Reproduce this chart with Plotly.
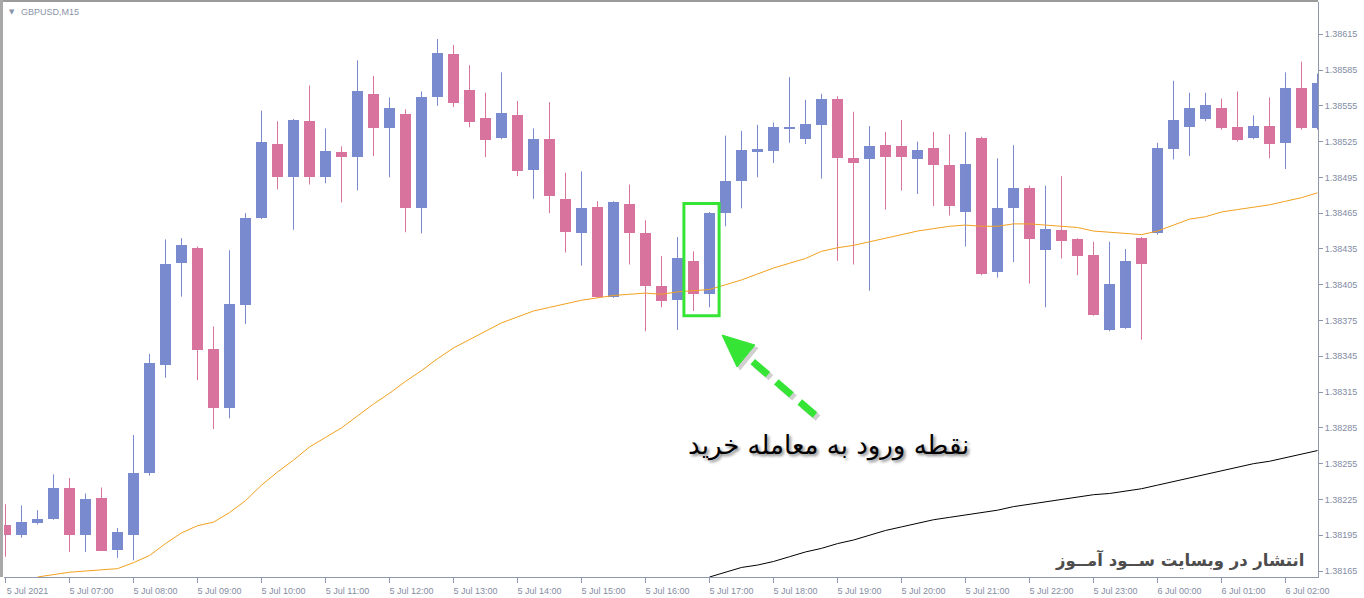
import plotly.graph_objects as go

# ---------------- data (GBPUSD M15, 5 Jul 2021 06:00 onwards) ----------------
x_tick_labels = ["5 Jul 2021", "5 Jul 07:00", "5 Jul 08:00", "5 Jul 09:00", "5 Jul 10:00",
                 "5 Jul 11:00", "5 Jul 12:00", "5 Jul 13:00", "5 Jul 14:00", "5 Jul 15:00",
                 "5 Jul 16:00", "5 Jul 17:00", "5 Jul 18:00", "5 Jul 19:00", "5 Jul 20:00",
                 "5 Jul 21:00", "5 Jul 22:00", "5 Jul 23:00", "6 Jul 00:00", "6 Jul 01:00",
                 "6 Jul 02:00"]
x_tick_positions = [0, 4, 8, 12, 16, 20, 24, 28, 32, 36, 40, 44, 48, 52, 56, 60, 64, 68, 72, 76, 80]

y_tick_labels = ["1.38165", "1.38195", "1.38225", "1.38255", "1.38285", "1.38315", "1.38345",
                 "1.38375", "1.38405", "1.38435", "1.38465", "1.38495", "1.38525", "1.38555",
                 "1.38585", "1.38615"]

opens = [1.38204, 1.38195, 1.38205, 1.38209, 1.38235, 1.38195, 1.38226, 1.38183, 1.38195, 1.38247,
         1.38338, 1.38423, 1.38436, 1.38351, 1.38302, 1.38388, 1.38461, 1.38523, 1.38495, 1.38542,
         1.38495, 1.38516, 1.38512, 1.38565, 1.38536, 1.38548, 1.38469, 1.38562, 1.38598, 1.38568,
         1.38545, 1.38528, 1.38547, 1.38501, 1.38527, 1.38477, 1.38448, 1.38470, 1.38395, 1.38473,
         1.38448, 1.38404, 1.38392, 1.38425, 1.38397, 1.38465, 1.38492, 1.38516, 1.38517, 1.38536,
         1.38527, 1.38539, 1.38561, 1.38511, 1.38510, 1.38522, 1.38521, 1.38510, 1.38520, 1.38505,
         1.38466, 1.38528, 1.38416, 1.38469, 1.38486, 1.38434, 1.38451, 1.38443, 1.38430, 1.38367,
         1.38369, 1.38444, 1.38448, 1.38519, 1.38537, 1.38544, 1.38553, 1.38537, 1.38528, 1.38538,
         1.38524, 1.38570, 1.38536]

highs = [1.38221, 1.38220, 1.38216, 1.38246, 1.38243, 1.38230, 1.38235, 1.38201, 1.38279, 1.38347,
         1.38443, 1.38444, 1.38437, 1.38370, 1.38434, 1.38465, 1.38551, 1.38542, 1.38544, 1.38572,
         1.38536, 1.38521, 1.38593, 1.38580, 1.38562, 1.38552, 1.38567, 1.38611, 1.38606, 1.38589,
         1.38566, 1.38583, 1.38559, 1.38536, 1.38558, 1.38499, 1.38500, 1.38475, 1.38475, 1.38489,
         1.38459, 1.38429, 1.38445, 1.38433, 1.38466, 1.38530, 1.38534, 1.38539, 1.38541, 1.38579,
         1.38560, 1.38565, 1.38563, 1.38550, 1.38538, 1.38533, 1.38543, 1.38525, 1.38533, 1.38531,
         1.38533, 1.38529, 1.38511, 1.38522, 1.38488, 1.38488, 1.38496, 1.38444, 1.38441, 1.38441,
         1.38435, 1.38445, 1.38524, 1.38576, 1.38566, 1.38566, 1.38561, 1.38567, 1.38547, 1.38562,
         1.38583, 1.38592, 1.38582]

lows = [1.38177, 1.38193, 1.38204, 1.38208, 1.38181, 1.38181, 1.38182, 1.38176, 1.38174, 1.38245,
        1.38327, 1.38395, 1.38325, 1.38284, 1.38293, 1.38372, 1.38460, 1.38485, 1.38451, 1.38489,
        1.38490, 1.38474, 1.38484, 1.38513, 1.38495, 1.38449, 1.38448, 1.38555, 1.38554, 1.38537,
        1.38512, 1.38527, 1.38496, 1.38477, 1.38465, 1.38432, 1.38421, 1.38394, 1.38394, 1.38422,
        1.38366, 1.38386, 1.38367, 1.38383, 1.38386, 1.38454, 1.38469, 1.38495, 1.38507, 1.38524,
        1.38523, 1.38494, 1.38425, 1.38422, 1.38400, 1.38468, 1.38484, 1.38481, 1.38471, 1.38463,
        1.38437, 1.38413, 1.38411, 1.38424, 1.38406, 1.38386, 1.38427, 1.38413, 1.38379, 1.38366,
        1.38368, 1.38359, 1.38447, 1.38510, 1.38513, 1.38542, 1.38535, 1.38525, 1.38527, 1.38511,
        1.38502, 1.38535, 1.38535]

closes = [1.38195, 1.38206, 1.38209, 1.38235, 1.38195, 1.38225, 1.38182, 1.38198, 1.38247, 1.38339,
          1.38422, 1.38438, 1.38350, 1.38302, 1.38389, 1.38461, 1.38525, 1.38495, 1.38543, 1.38495,
          1.38517, 1.38512, 1.38567, 1.38536, 1.38553, 1.38469, 1.38562, 1.38599, 1.38557, 1.38541,
          1.38526, 1.38549, 1.38500, 1.38527, 1.38479, 1.38449, 1.38469, 1.38395, 1.38474, 1.38448,
          1.38404, 1.38391, 1.38427, 1.38397, 1.38465, 1.38492, 1.38518, 1.38519, 1.38537, 1.38537,
          1.38540, 1.38561, 1.38511, 1.38507, 1.38521, 1.38512, 1.38512, 1.38518, 1.38505, 1.38471,
          1.38506, 1.38414, 1.38469, 1.38486, 1.38443, 1.38452, 1.38442, 1.38429, 1.38380, 1.38406,
          1.38425, 1.38422, 1.38520, 1.38543, 1.38553, 1.38556, 1.38536, 1.38526, 1.38538, 1.38523,
          1.38570, 1.38536, 1.38574]

# orange moving average (visible from the 3rd candle)
ma_fast = [None, None, 1.38160, 1.38162, 1.38164, 1.38165, 1.38166, 1.38167, 1.38172, 1.38178,
           1.38188, 1.38197, 1.38203, 1.38206, 1.38214, 1.38224, 1.38237, 1.38248, 1.38258, 1.38269,
           1.38277, 1.38285, 1.38295, 1.38305, 1.38314, 1.38324, 1.38333, 1.38343, 1.38352, 1.38359,
           1.38366, 1.38373, 1.38378, 1.38383, 1.38386, 1.38389, 1.38392, 1.38394, 1.38396, 1.38397,
           1.38398, 1.38397, 1.38399, 1.38400, 1.38401, 1.38405, 1.38409, 1.38414, 1.38419, 1.38423,
           1.38427, 1.38433, 1.38436, 1.38438, 1.38441, 1.38444, 1.38447, 1.38450, 1.38452, 1.38454,
           1.38455, 1.38454, 1.38454, 1.38456, 1.38456, 1.38455, 1.38454, 1.38453, 1.38450, 1.38449,
           1.38448, 1.38447, 1.38450, 1.38455, 1.38460, 1.38462, 1.38466, 1.38468, 1.38470, 1.38472,
           1.38475, 1.38478, 1.38482]

# black slow moving average (enters the visible range at 17:00)
ma_slow = [None] * 44 + [
    1.38160, 1.38164, 1.38168, 1.38170, 1.38173, 1.38177, 1.38181, 1.38184, 1.38188, 1.38191,
    1.38195, 1.38199, 1.38202, 1.38205, 1.38208, 1.38210, 1.38212, 1.38214, 1.38216, 1.38219,
    1.38221, 1.38223, 1.38225, 1.38227, 1.38229, 1.38230, 1.38232, 1.38234, 1.38237, 1.38240,
    1.38243, 1.38246, 1.38249, 1.38252, 1.38255, 1.38257, 1.38260, 1.38263, 1.38266]

entry_candles = [43, 44]

# ---------------- styling ----------------
UP = "#7A8ACE"
DOWN = "#D8739E"
AXIS = "#8E97AE"
TXT = "#838CA3"

idx = list(range(len(opens)))
is_up = [c >= o for o, c in zip(opens, closes)]

fig = go.Figure()

# wicks
for flag, col in ((True, UP), (False, DOWN)):
    wx, wy = [], []
    for i in idx:
        if is_up[i] == flag:
            wx += [i, i, None]
            wy += [lows[i], highs[i], None]
    fig.add_trace(go.Scatter(x=wx, y=wy, mode="lines", line=dict(color=col, width=1),
                             hoverinfo="skip", showlegend=False))

# bodies
bases = [min(o, c) for o, c in zip(opens, closes)]
heights = [max(abs(c - o), 0.000009) for o, c in zip(opens, closes)]
fig.add_trace(go.Bar(x=idx, y=heights, base=bases, width=0.68,
                     marker=dict(color=[UP if u else DOWN for u in is_up], line=dict(width=0)),
                     showlegend=False, hoverinfo="skip"))

fig.add_trace(go.Scatter(x=idx, y=ma_fast, mode="lines", line=dict(color="#F2A11F", width=1),
                         showlegend=False, hoverinfo="skip"))
fig.add_trace(go.Scatter(x=idx, y=ma_slow, mode="lines", line=dict(color="#000000", width=1),
                         showlegend=False, hoverinfo="skip"))

# ---------------- layout ----------------
W, H = 1364, 598
ML, MR, MT, MB = 4, 46, 2, 21
PW, PH = W - ML - MR, H - MT - MB


def px(xp):
    return (xp - ML) / PW


def py(yp):
    return (H - MB - yp) / PH


GREEN = "#36E436"
shapes = []
# entry box around the two entry candles
shapes.append(dict(type="rect", xref="x", yref="y",
                   x0=entry_candles[0] - 0.6, x1=entry_candles[1] + 0.6,
                   y0=min(lows[i] for i in entry_candles) - 0.00004,
                   y1=max(highs[i] for i in entry_candles) + 0.00007,
                   line=dict(color=GREEN, width=3), fillcolor="rgba(0,0,0,0)", layer="above"))

# arrow (shadow + dashed shaft + head)
tail = (815, 415)
neck = (745, 355)
tip = (722, 335)
c1 = (737, 367)
c2 = (755, 345)
for off, col, op in ((3, "#777777", 0.35), (0, GREEN, 1.0)):
    shapes.append(dict(type="line", xref="paper", yref="paper",
                       x0=px(tail[0] + off), y0=py(tail[1] + off),
                       x1=px(neck[0] + off), y1=py(neck[1] + off),
                       line=dict(color=col, width=7, dash="20px,11px"), opacity=op, layer="above"))
    path = "M {},{} L {},{} L {},{} Z".format(px(tip[0] + off), py(tip[1] + off),
                                            px(c1[0] + off), py(c1[1] + off),
                                            px(c2[0] + off), py(c2[1] + off))
    shapes.append(dict(type="path", xref="paper", yref="paper", path=path,
                       fillcolor=col, line=dict(color=col, width=1), opacity=op, layer="above"))

# window frame lines
shapes.append(dict(type="line", xref="paper", yref="paper", x0=px(0), x1=px(W - MR), y0=py(1), y1=py(1),
                   line=dict(color="#9A9A9A", width=2), layer="above"))
shapes.append(dict(type="line", xref="paper", yref="paper", x0=px(1.5), x1=px(1.5), y0=py(0), y1=py(H - MB),
                   line=dict(color="#A8A8A8", width=3), layer="above"))

annotations = [
    dict(text="▼", xref="paper", yref="paper", x=px(7), y=py(12), xanchor="left", yanchor="middle",
         showarrow=False, font=dict(size=7, color="#8A93A8", family="DejaVu Sans")),
    dict(text="GBPUSD,M15", xref="paper", yref="paper", x=px(19), y=py(12), xanchor="left",
         yanchor="middle", showarrow=False, font=dict(size=9, color="#8A93A8", family="Liberation Sans")),
    dict(text="نقطه ورود به معامله خرید", xref="paper", yref="paper", x=px(828), y=py(445),
         xanchor="center", yanchor="middle", showarrow=False,
         font=dict(size=26, color="#000000", family="DejaVu Sans", shadow="2px 2px 3px #888888")),
    dict(text="<b>انتشار در وبسایت ســود آمــوز</b>", xref="paper", yref="paper", x=px(1306), y=py(560),
         xanchor="right", yanchor="middle", showarrow=False,
         font=dict(size=16.5, color="#4D4D4D", family="DejaVu Sans")),
]

y_tick_vals = [float(t) for t in y_tick_labels]

fig.update_layout(
    width=W, height=H,
    margin=dict(l=ML, r=MR, t=MT, b=MB),
    paper_bgcolor="white", plot_bgcolor="white",
    showlegend=False, bargap=0,
    shapes=shapes, annotations=annotations,
    xaxis=dict(range=[-0.094, 82.03], tickmode="array", tickvals=x_tick_positions,
               ticktext=x_tick_labels, ticks="outside", ticklen=5, tickcolor=AXIS,
               showline=True, linecolor=AXIS, linewidth=1, showgrid=False, zeroline=False,
               tickfont=dict(size=9, color=TXT, family="Liberation Sans"),
               ticklabelshift=22, fixedrange=True),
    yaxis=dict(range=[1.38160, 1.38642], side="right", tickmode="array", tickvals=y_tick_vals,
               ticktext=y_tick_labels, ticks="outside", ticklen=4, tickcolor=AXIS,
               showline=True, linecolor=AXIS, linewidth=1, showgrid=False, zeroline=False,
               tickfont=dict(size=9, color=TXT, family="Liberation Sans"), fixedrange=True),
)

fig.write_html("out.html", config={"displayModeBar": False},
               post_script="document.body.style.margin='0';document.body.style.overflow='hidden';")
